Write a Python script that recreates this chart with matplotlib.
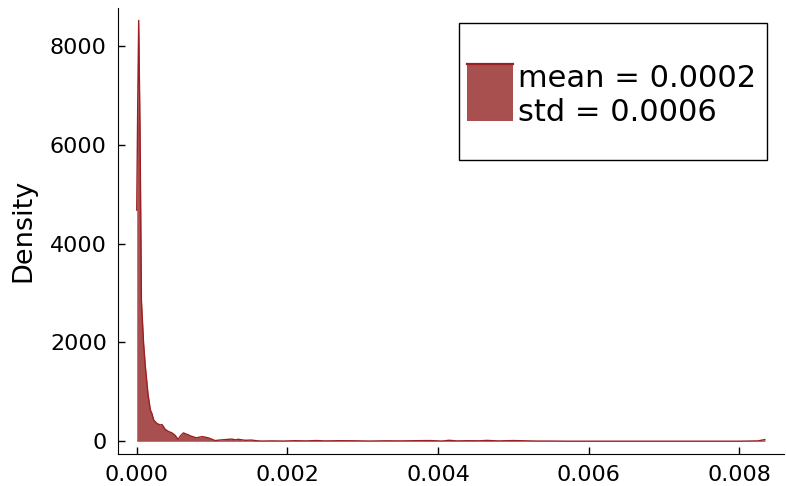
import matplotlib
matplotlib.use("Agg")
import matplotlib.pyplot as plt
from matplotlib.patches import Rectangle
from matplotlib.legend_handler import HandlerBase
from matplotlib.ticker import FormatStrFormatter

# density curve (x in units of 1e-3)
x_milli = [0.000, 0.013, 0.026, 0.044, 0.062, 0.090, 0.115, 0.150, 0.180, 0.202,
           0.225, 0.268, 0.313, 0.335, 0.379, 0.420, 0.467, 0.510, 0.533, 0.550,
           0.585, 0.620, 0.650, 0.687, 0.710, 0.753, 0.790, 0.820, 0.870, 0.950,
           1.000, 1.040, 1.100, 1.180, 1.260, 1.310, 1.350, 1.440, 1.520, 1.600,
           1.660, 1.800, 1.950, 2.100, 2.250, 2.380, 2.500, 2.700, 2.900, 3.100,
           3.300, 3.500, 3.700, 3.900, 4.050, 4.150, 4.250, 4.400, 4.550, 4.650,
           4.800, 5.000, 5.150, 5.300, 5.500, 5.700, 6.000, 6.500, 7.000, 7.500,
           8.000, 8.250, 8.340]
density = [4680, 6800, 8520, 6230, 2850, 2000, 1500, 950, 640, 560,
           430, 360, 330, 340, 240, 200, 170, 120, 70, 40,
           120, 170, 150, 130, 110, 90, 70, 80, 95, 70,
           40, 15, 25, 35, 45, 30, 40, 20, 25, 10,
           5, 8, 5, 12, 8, 15, 8, 12, 10, 5,
           10, 8, 12, 15, 5, 20, 8, 12, 10, 18,
           8, 15, 10, 5, 5, 2, 2, 2, 2, 2,
           2, 8, 35]
x_vals = [v * 1e-3 for v in x_milli]

label = "mean = 0.0002\nstd = 0.0006"
xticks = [0.0, 0.002, 0.004, 0.006, 0.008]
yticks = [0, 2000, 4000, 6000, 8000]

line_col = "#9b1f22"
fill_col = "#a84f4f"


class FillLineHandler(HandlerBase):
    # filled box spanning both text lines, with the line along its top
    def create_artists(self, legend, orig, xd, yd, w, h, fs, trans):
        bottom = -0.48 * fs
        top = 1.40 * fs
        r = Rectangle((-xd, bottom), w, top - bottom, facecolor=fill_col,
                      edgecolor="none", transform=trans)
        ln = plt.Line2D([-xd, -xd + w], [top, top], color=line_col,
                        lw=1.6, transform=trans)
        return [r, ln]


fig = plt.figure(figsize=(7.86, 4.86), dpi=100)
ax = fig.add_axes([0.150, 0.066, 0.847, 0.918])

ax.fill_between(x_vals, density, 0, color=fill_col, lw=0)
line, = ax.plot(x_vals, density, color=line_col, lw=1.0, label=label)

span = x_vals[-1] - x_vals[0]
ax.set_xlim(x_vals[0] - 0.03 * span, x_vals[-1] + 0.03 * span)
ymax = max(density)
ax.set_ylim(-0.03 * ymax, 1.03 * ymax)

ax.set_xticks(xticks)
ax.set_yticks(yticks)
ax.xaxis.set_major_formatter(FormatStrFormatter("%.3f"))
ax.tick_params(direction="in", length=5, width=1, labelsize=16, pad=8)
ax.set_ylabel("Density", fontsize=19.5, labelpad=10)

for s in ["top", "right"]:
    ax.spines[s].set_visible(False)

# legend frame drawn by hand so the padding can differ per side
ax.add_patch(Rectangle((0.584, 0.671), 0.392, 0.282, transform=fig.transFigure,
                       facecolor="white", edgecolor="black", lw=1,
                       clip_on=False, zorder=4))
leg = ax.legend(handles=[line], handler_map={line: FillLineHandler()}, frameon=False,
                loc="center", bbox_to_anchor=(0.778, 0.804), bbox_transform=fig.transFigure,
                fontsize=22, handlelength=1.5, handleheight=1.8, handletextpad=0.15)
leg.set_zorder(6)

fig.savefig("out.png", dpi=100)
